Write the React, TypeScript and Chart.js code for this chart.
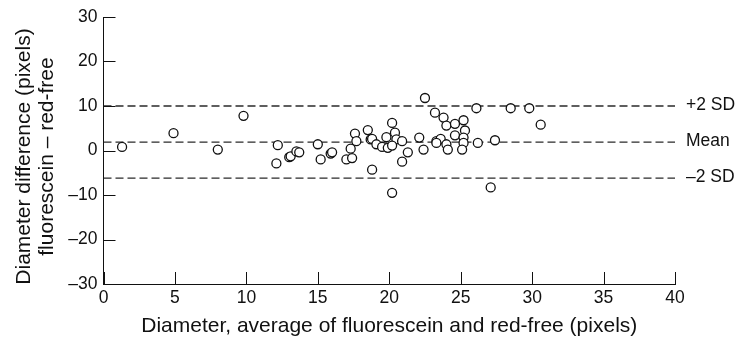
import React, { useEffect, useRef } from "react";
import { Chart, registerables } from "chart.js";

Chart.register(...registerables);

// ---- data ----
const DIAMETER_AVG = [
  1.3, 4.9, 8.0, 9.8, 12.2, 12.1, 13.0, 13.1, 13.5, 13.7,
  15.0, 15.2, 15.9, 16.0, 17.6, 17.7, 17.3, 17.0, 17.4, 22.5,
  23.2, 20.2, 18.5, 18.7, 18.8, 19.1, 18.8, 19.5, 19.8, 19.9,
  20.4, 20.5, 20.2, 20.9, 21.3, 20.9, 20.2, 22.1, 22.4, 23.3,
  26.1, 23.8, 24.0, 24.6, 25.2, 25.3, 24.6, 25.2, 23.6, 23.3,
  24.0, 24.1, 25.2, 25.1, 26.2, 27.4, 27.1, 28.5, 29.8, 30.6,
];
const DIAMETER_DIFF = [
  0.8, 3.9, 0.2, 7.8, 1.2, -2.9, -1.5, -1.3, -0.2, -0.4,
  1.4, -2.0, -0.7, -0.4, 3.8, 2.1, 0.4, -2.0, -1.7, 11.8,
  8.5, 6.2, 4.6, 2.5, 2.6, 1.4, -4.3, 0.8, 3.0, 0.6,
  4.0, 2.5, 1.1, 2.1, -0.4, -2.5, -9.5, 2.9, 0.2, 2.1,
  9.5, 7.4, 5.6, 6.0, 6.8, 4.5, 3.4, 2.9, 2.6, 1.7,
  1.4, 0.2, 1.7, 0.2, 1.7, 2.3, -8.3, 9.5, 9.5, 5.8,
];
const MEAN_DIFF = 1.9;
const UPPER_LIMIT = 10.0;
const LOWER_LIMIT = -6.2;
const LIMIT_VALUES = [UPPER_LIMIT, MEAN_DIFF, LOWER_LIMIT];
const LIMIT_LABELS = ["+2 SD", "Mean", "\u20132 SD"];
const X_TICKS = [0, 5, 10, 15, 20, 25, 30, 35, 40];
const Y_TICKS = [-30, -20, -10, 0, 10, 20, 30];
const X_TITLE = "Diameter, average of fluorescein and red-free (pixels)";
const Y_TITLE = ["Diameter difference (pixels)", "fluorescein \u2013 red-free"];

const FONT_FAMILY = "'Liberation Sans', Arial, Helvetica, sans-serif";
const INK = "#111111";

const overlayPlugin = {
  id: "overlay",
  afterDraw(chart: any) {
    const { ctx, chartArea, scales } = chart;
    const x = scales.x;
    const y = scales.y;
    ctx.save();
    // inward tick marks
    ctx.strokeStyle = INK;
    ctx.lineWidth = 1;
    ctx.beginPath();
    for (const v of Y_TICKS) {
      const py = Math.round(y.getPixelForValue(v)) + 0.5;
      ctx.moveTo(chartArea.left, py);
      ctx.lineTo(chartArea.left + 12, py);
    }
    for (const v of X_TICKS) {
      const px = Math.round(x.getPixelForValue(v)) + 0.5;
      ctx.moveTo(px, chartArea.bottom);
      ctx.lineTo(px, chartArea.bottom - 12);
    }
    ctx.stroke();

    // limit labels on the right
    ctx.fillStyle = INK;
    ctx.font = `17.5px ${FONT_FAMILY}`;
    ctx.textAlign = "left";
    ctx.textBaseline = "middle";
    LIMIT_VALUES.forEach((v, i) => {
      ctx.fillText(LIMIT_LABELS[i], chartArea.right + 11, y.getPixelForValue(v) - 1);
    });

    // y-axis title (two lines, rotated)
    ctx.font = `21px ${FONT_FAMILY}`;
    ctx.textAlign = "center";
    ctx.translate(24, (chartArea.top + chartArea.bottom) / 2 + 6);
    ctx.rotate(-Math.PI / 2);
    Y_TITLE.forEach((line, i) => ctx.fillText(line, 0, i * 23.4));
    ctx.restore();
  },
};

export default function App() {
  const canvasRef = useRef<HTMLCanvasElement | null>(null);

  useEffect(() => {
    const canvas = canvasRef.current;
    if (!canvas) return;
    const points = DIAMETER_AVG.map((xv, i) => ({ x: xv, y: DIAMETER_DIFF[i] }));
    const hline = (v: number) => ({
      type: "line" as const,
      data: [
        { x: X_TICKS[0], y: v },
        { x: X_TICKS[X_TICKS.length - 1], y: v },
      ],
      borderColor: "#2a2a2a",
      borderWidth: 1.3,
      borderDash: [8, 4],
      pointRadius: 0,
      fill: false,
      order: 2,
    });

    const chart = new Chart(canvas, {
      type: "scatter",
      data: {
        datasets: [
          {
            type: "scatter",
            data: points,
            backgroundColor: "#ffffff",
            borderColor: INK,
            borderWidth: 1.3,
            pointRadius: 4.5,
            pointHoverRadius: 4.5,
            order: 0,
          } as any,
          hline(UPPER_LIMIT),
          hline(MEAN_DIFF),
          hline(LOWER_LIMIT),
        ],
      },
      options: {
        animation: false,
        responsive: false,
        events: [],
        layout: { padding: { left: 0, right: 67, top: 17, bottom: 0 } },
        plugins: { legend: { display: false }, tooltip: { enabled: false } },
        scales: {
          x: {
            type: "linear",
            min: 0,
            max: 40,
            afterBuildTicks: (s: any) => {
              s.ticks = X_TICKS.map((v) => ({ value: v }));
            },
            afterFit: (s: any) => {
              s.height = 55;
            },
            grid: { display: false, drawTicks: false },
            border: { display: true, color: INK, width: 1 },
            ticks: {
              color: INK,
              padding: 4,
              maxRotation: 0,
              font: { family: FONT_FAMILY, size: 17.5 },
            },
            title: {
              display: true,
              text: X_TITLE,
              color: INK,
              font: { family: FONT_FAMILY, size: 21, lineHeight: 1.1 },
              padding: { top: 0, bottom: 1 },
            },
          },
          y: {
            type: "linear",
            min: -30,
            max: 30,
            afterBuildTicks: (s: any) => {
              s.ticks = Y_TICKS.map((v) => ({ value: v }));
            },
            afterFit: (s: any) => {
              s.width = 103.5;
            },
            grid: { display: false, drawTicks: false },
            border: { display: true, color: INK, width: 1 },
            ticks: {
              color: INK,
              padding: 6,
              font: { family: FONT_FAMILY, size: 17.5 },
              callback: (v: any) => (Number(v) < 0 ? "\u2013" + Math.abs(Number(v)) : String(v)),
            },
          },
        },
      },
      plugins: [overlayPlugin],
    } as any);

    return () => chart.destroy();
  }, []);

  return (
    <div style={{ position: "fixed", left: 0, top: 0, width: 742, height: 339, background: "#fff" }}>
      <canvas ref={canvasRef} width={742} height={339} style={{ display: "block" }} />
    </div>
  );
}
